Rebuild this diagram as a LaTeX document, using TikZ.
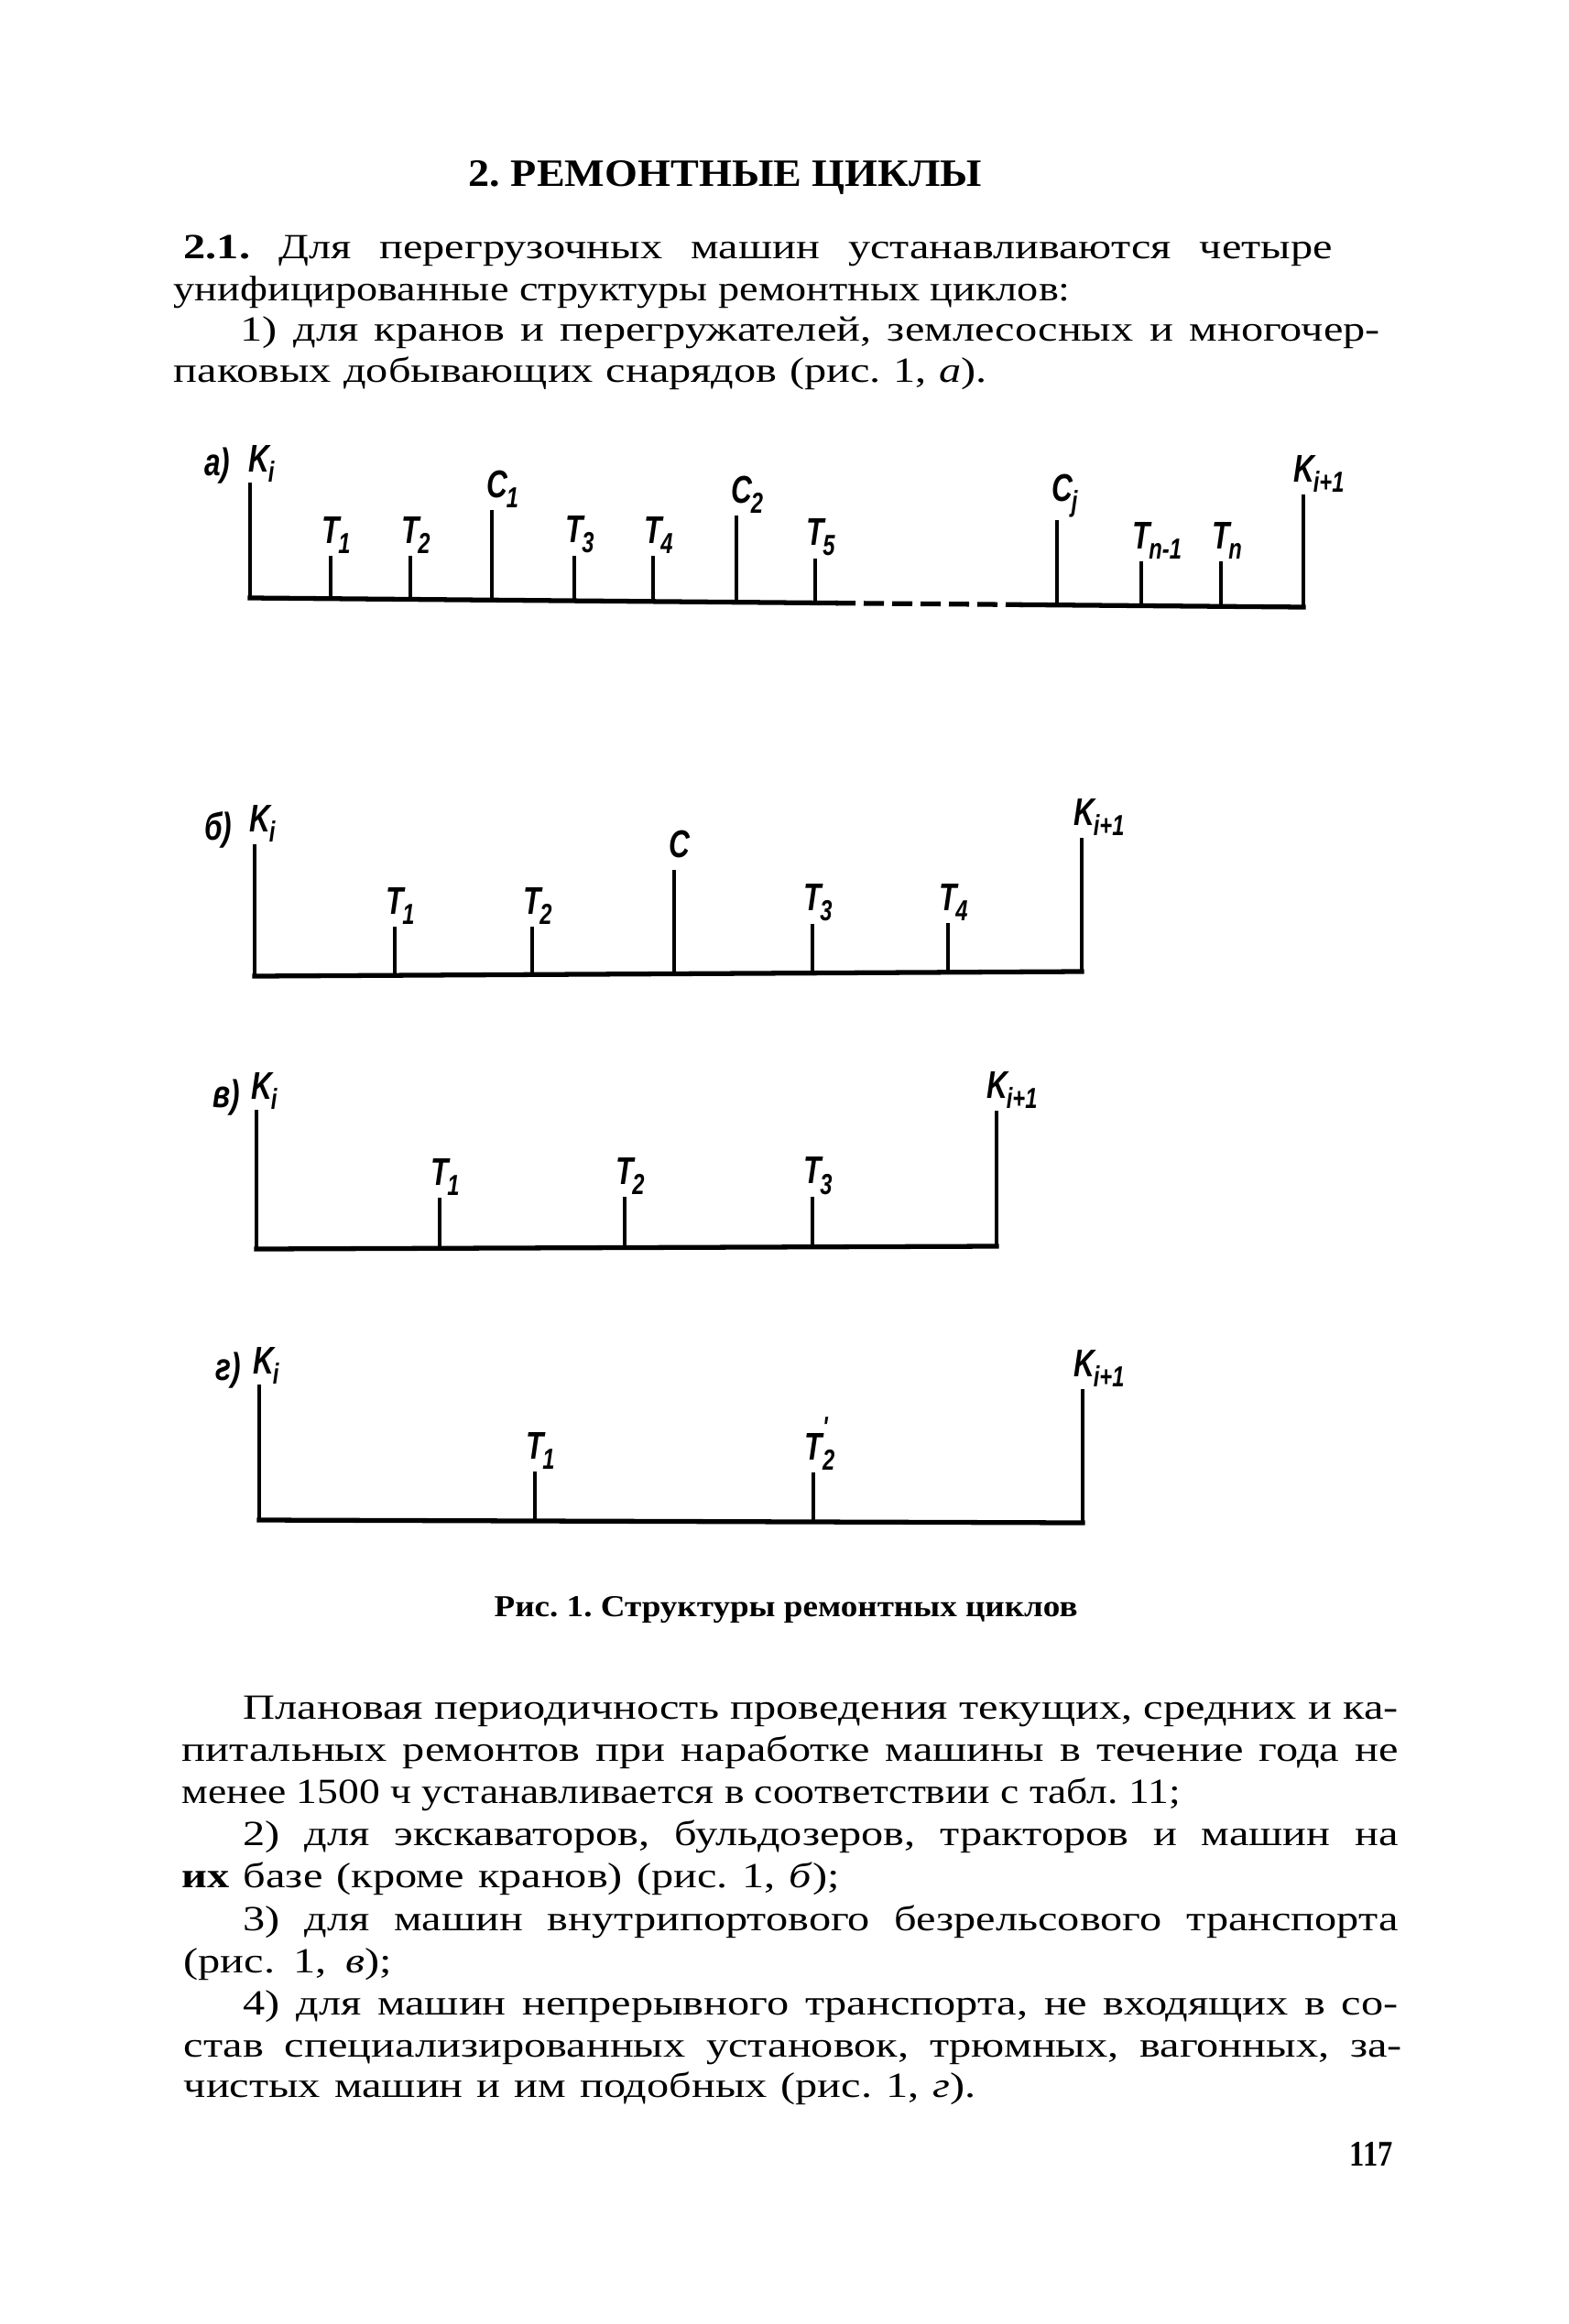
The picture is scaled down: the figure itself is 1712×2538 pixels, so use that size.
\documentclass[tikz,border=0pt]{standalone}
\usepackage{fontspec}
\usepackage{graphicx}
\setmainfont{Liberation Serif}[FakeStretch=1.25]
\newfontfamily\labfont{Liberation Sans}[FakeStretch=0.75]
\frenchspacing
\newcommand\lb[2]{{\labfont\bfseries\itshape #1\kern-0.04em\raisebox{-0.5ex}{\fontsize{9}{10}\selectfont #2}}}
\newsavebox\lbox
\newlength\tgt
\newcommand\fitline[2]{\setlength\tgt{#1}\sbox\lbox{#2}%
  \ifdim\wd\lbox>\tgt\resizebox{\tgt}{\height}{\usebox\lbox}\else\makebox[\tgt][s]{#2}\fi}
\newcommand\tl[4]{\node[txt] at (#1,#3) {\fitline{\dimexpr 0.1mm*(#2-#1)\relax}{#4}};}
\tikzset{
  txt/.style={anchor=base west,inner sep=0pt,font=\fontsize{11}{12}\selectfont},
  lab/.style={inner sep=0pt,font=\fontsize{12}{13}\selectfont},
  baseln/.style={line width=1.5pt,line cap=rect},
  vln/.style={line width=1.1pt},
}
\begin{document}
\begin{tikzpicture}[x=0.1mm,y=-0.1mm]
\fill[white] (0,0) rectangle (1712,2538);
\useasboundingbox (0,0) rectangle (1712,2538);

% title
\node[anchor=base west,inner sep=0pt] (title) at (511,203) {\resizebox{56mm}{2.8mm}{\bfseries 2. РЕМОНТНЫЕ ЦИКЛЫ}};

% paragraph 1
\tl{200}{1454}{283}{\textbf{2.1.} Для перегрузочных машин устанавливаются четыре}
\tl{189}{1168}{328}{унифицированные структуры ремонтных циклов:}
\tl{262}{1506}{372}{1) для кранов и перегружателей, землесосных и многочер-}
\tl{189}{1077}{417}{паковых добывающих снарядов (рис. 1, \textit{а}).}

% ---------- diagram a
\draw[baseln] (273,653) -- (912,658.6);
\draw[line width=1.5pt,dash pattern=on 2.2mm off 0.9mm] (912,658.6) -- (1117,660.4);
\draw[baseln] (1117,660.4) -- (1423,663);
\draw[vln] (273,527) -- (273,653);
\draw[vln] (361,607) -- (361,654);
\draw[vln] (448,607) -- (448,655);
\draw[vln] (537,557) -- (537,655);
\draw[vln] (627,607) -- (627,656);
\draw[vln] (713,607) -- (713,657);
\draw[vln] (804,563) -- (804,658);
\draw[vln] (890,610) -- (890,658);
\draw[vln] (1154,568) -- (1154,661);
\draw[vln] (1246,613) -- (1246,661);
\draw[vln] (1333,613) -- (1333,662);
\draw[vln] (1423,540) -- (1423,663);
\node[lab,anchor=south east] (la) at (252,529) {\labfont\bfseries\itshape а)};
\node[lab,anchor=south west] (ka) at (271,527) {\lb{K}{i}};
\node[lab,anchor=south west] at (351,605) {\lb{T}{1}};
\node[lab,anchor=south west] at (438,605) {\lb{T}{2}};
\node[lab,anchor=south west] at (531,555) {\lb{C}{1}};
\node[lab,anchor=south west] at (617,605) {\lb{T}{3}};
\node[lab,anchor=south west] at (703,605) {\lb{T}{4}};
\node[lab,anchor=south west] at (798,561) {\lb{C}{2}};
\node[lab,anchor=south west] at (880,608) {\lb{T}{5}};
\node[lab,anchor=south west] at (1148,566) {\lb{C}{j}};
\node[lab,anchor=south west] at (1236,611) {\lb{T}{n-1}};
\node[lab,anchor=south west] at (1323,611) {\lb{T}{n}};
\node[lab,anchor=south west] at (1412,538) {\lb{K}{i+1}};

% ---------- diagram b
\draw[baseln] (278,1066) -- (1181,1061);
\draw[vln] (278,922) -- (278,1066);
\draw[vln] (431,1012) -- (431,1065);
\draw[vln] (581,1012) -- (581,1064);
\draw[vln] (736,950) -- (736,1063);
\draw[vln] (887,1009) -- (887,1063);
\draw[vln] (1035,1008) -- (1035,1062);
\draw[vln] (1181,915) -- (1181,1061);
\node[lab,anchor=south east] at (254,927) {\labfont\bfseries\itshape б)};
\node[lab,anchor=south west] at (272,920) {\lb{K}{i}};
\node[lab,anchor=south west] at (421,1010) {\lb{T}{1}};
\node[lab,anchor=south west] at (571,1010) {\lb{T}{2}};
\node[lab,anchor=south west] at (730,948) {\lb{C}{}};
\node[lab,anchor=south west] at (877,1007) {\lb{T}{3}};
\node[lab,anchor=south west] at (1025,1006) {\lb{T}{4}};
\node[lab,anchor=south west] at (1172,913) {\lb{K}{i+1}};

% ---------- diagram v
\draw[baseln] (280,1364) -- (1088,1361);
\draw[vln] (280,1212) -- (280,1364);
\draw[vln] (480,1308) -- (480,1363);
\draw[vln] (682,1307) -- (682,1363);
\draw[vln] (887,1307) -- (887,1362);
\draw[vln] (1088,1213) -- (1088,1361);
\node[lab,anchor=south east] at (263,1219) {\labfont\bfseries\itshape в)};
\node[lab,anchor=south west] at (274,1212) {\lb{K}{i}};
\node[lab,anchor=south west] at (470,1306) {\lb{T}{1}};
\node[lab,anchor=south west] at (672,1305) {\lb{T}{2}};
\node[lab,anchor=south west] at (877,1305) {\lb{T}{3}};
\node[lab,anchor=south west] at (1077,1211) {\lb{K}{i+1}};

% ---------- diagram g
\draw[baseln] (283,1660) -- (1182,1663);
\draw[vln] (283,1512) -- (283,1660);
\draw[vln] (584,1607) -- (584,1661);
\draw[vln] (888,1608) -- (888,1662);
\draw[vln] (1182,1517) -- (1182,1663);
\node[lab,anchor=south east] at (264,1517) {\labfont\bfseries\itshape г)};
\node[lab,anchor=south west] at (276,1512) {\lb{K}{i}};
\node[lab,anchor=south west] at (574,1605) {\lb{T}{1}};
\node[lab,anchor=south west] at (878,1606) {{\labfont\bfseries\itshape T\rlap{\raisebox{1.1ex}{\fontsize{9}{10}\selectfont '}}\raisebox{-0.5ex}{\fontsize{9}{10}\selectfont 2}}};
\node[lab,anchor=south west] at (1172,1515) {\lb{K}{i+1}};

% caption
\node[anchor=base west,inner sep=0pt] (cap) at (539,1765) {\resizebox{63.7mm}{2.2mm}{\bfseries Рис. 1. Структуры ремонтных циклов}};

% paragraph 2
\tl{265}{1526}{1877}{Плановая периодичность проведения текущих, средних и ка-}
\tl{198}{1526}{1923}{питальных ремонтов при наработке машины в течение года не}
\tl{198}{1288}{1969}{менее 1500 ч устанавливается в соответствии с табл. 11;}
\tl{265}{1526}{2015}{2) для экскаваторов, бульдозеров, тракторов и машин на}
\tl{198}{916}{2061}{\textbf{их} базе (кроме кранов) (рис. 1, \textit{б});}
\tl{265}{1526}{2108}{3) для машин внутрипортового безрельсового транспорта}
\tl{200}{427}{2154}{(рис. 1, \textit{в});}
\tl{265}{1526}{2200}{4) для машин непрерывного транспорта, не входящих в со-}
\tl{200}{1530}{2246}{став специализированных установок, трюмных, вагонных, за-}
\tl{200}{1065}{2290}{чистых машин и им подобных (рис. 1, \textit{г}).}

% page number
\node[anchor=base west,inner sep=0pt] (pg) at (1473,2365) {\resizebox{4.7mm}{2.6mm}{\bfseries 117}};
\end{tikzpicture}
\end{document}
